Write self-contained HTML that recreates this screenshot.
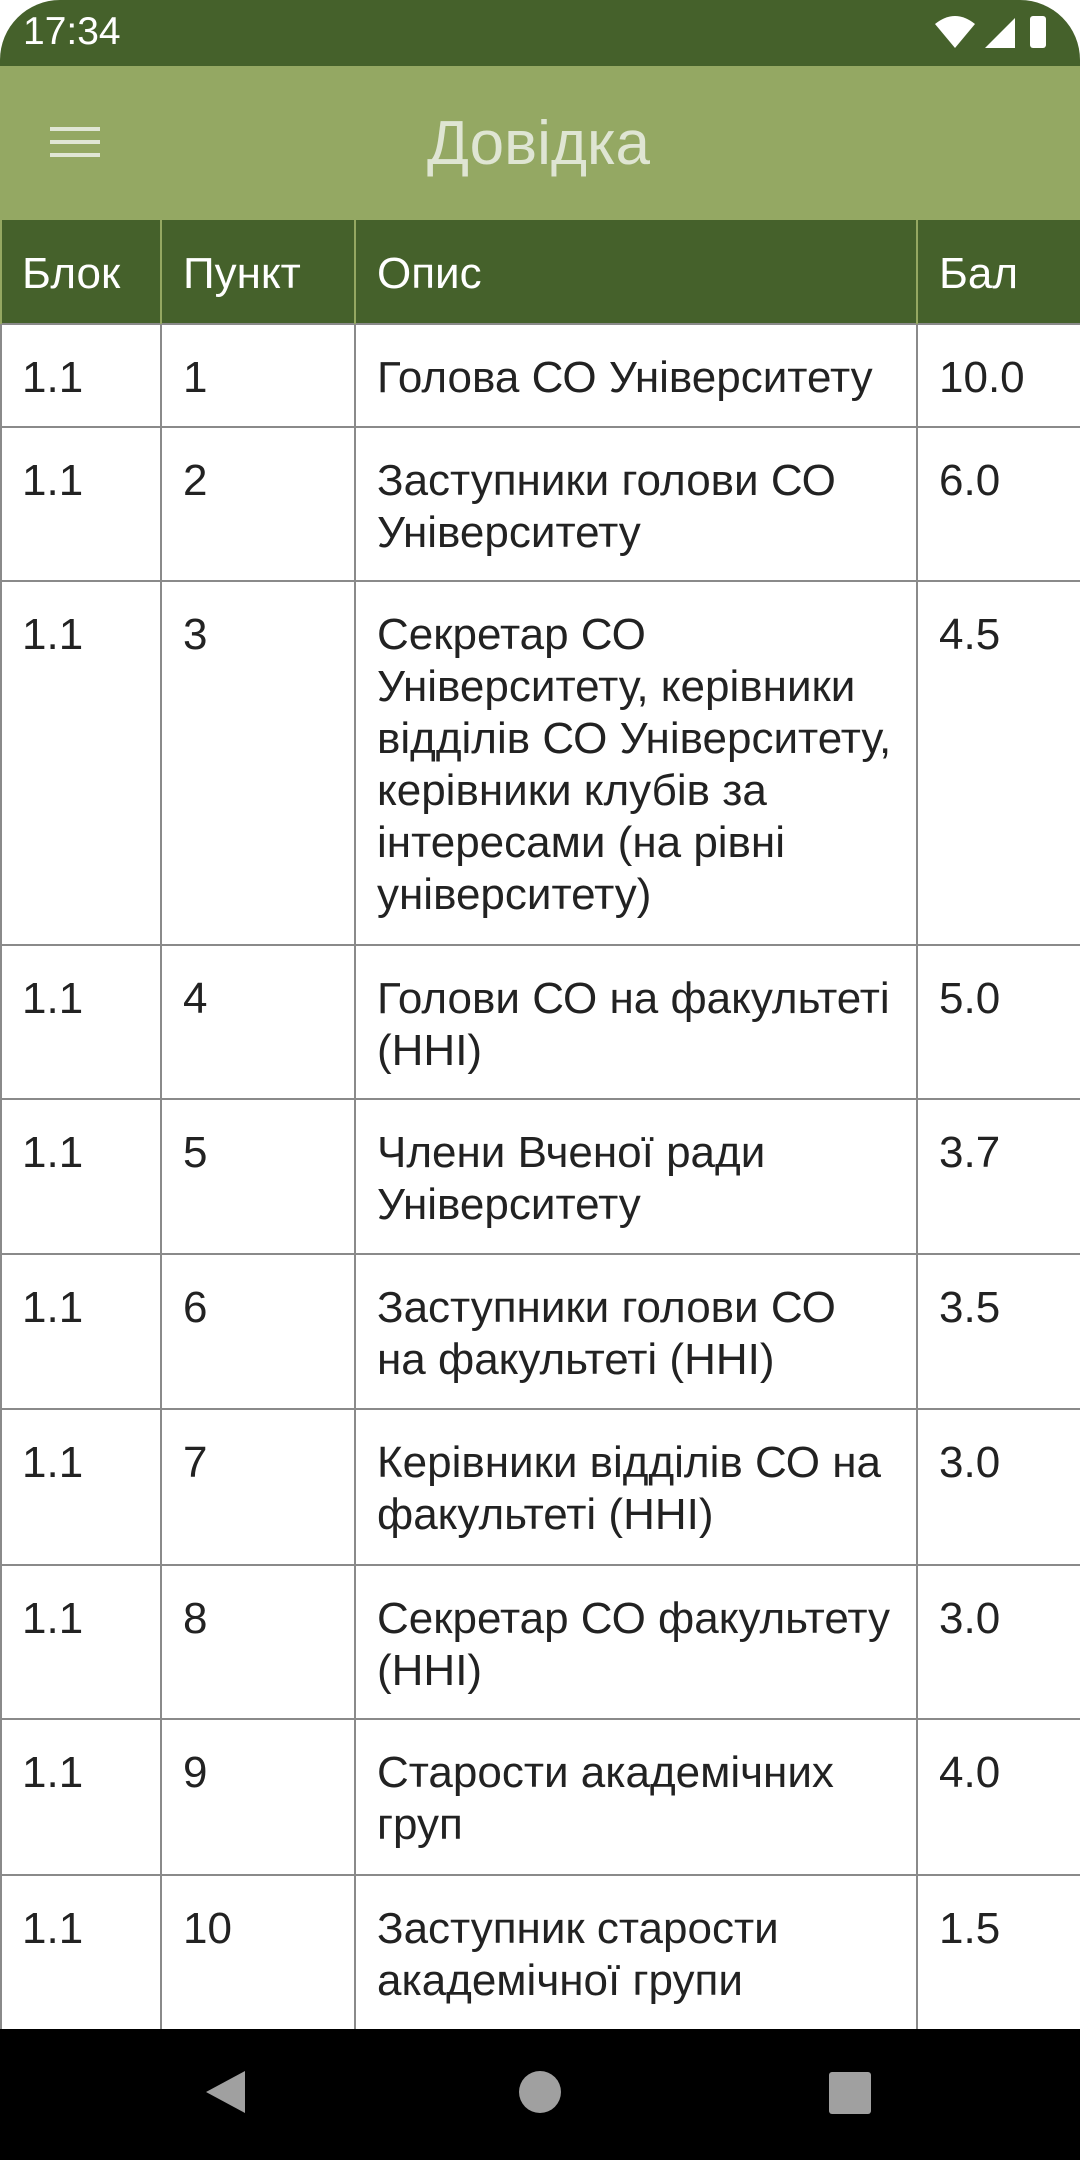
<!DOCTYPE html>
<html><head><meta charset="utf-8"><style>
body{margin:0;width:1080px;height:2160px;position:relative;overflow:hidden;background:#fff;font-family:"Liberation Sans","DejaVu Sans",sans-serif;}
.abs{position:absolute;}
.cell{position:absolute;box-sizing:border-box;padding:28px 0 0 22px;font-size:44px;line-height:52px;color:#222;white-space:nowrap;}
.vl{position:absolute;width:2px;background:#8a8a8a;}
.hl{position:absolute;height:2px;background:#8a8a8a;left:0;width:1080px;}
</style></head><body>
<div class="abs" style="left:0;top:0;width:1080px;height:66px;background:#45612b;border-radius:60px 60px 0 0;"></div>
<div class="abs" style="left:23px;top:10px;font-size:39px;color:#fff;">17:34</div>
<svg class="abs" style="left:930px;top:10px" width="150" height="46">
<path d="M5 14 Q25 -2 45 14 L25 38 Z" fill="#fff"/><path d="M55 38 L85 8 L85 38 Z" fill="#fff"/><rect x="100" y="6" width="16" height="32" rx="3" fill="#fff"/></svg>
<div class="abs" style="left:0;top:66px;width:1080px;height:154px;background:#94a863;"></div>
<svg class="abs" style="left:50px;top:125px" width="50" height="36"><rect y="2" width="50" height="4" fill="#e0e6d4"/><rect y="15" width="50" height="4" fill="#e0e6d4"/><rect y="28" width="50" height="4" fill="#e0e6d4"/></svg>
<div class="abs" style="left:427px;top:108px;font-size:62px;color:#dfe5d3;">Довідка</div>
<div class="abs" style="left:0;top:220px;width:1080px;height:104px;background:#45612b;"></div>
<div id="tbl"></div>
<div class="abs" style="left:0;top:2029px;width:1080px;height:131px;background:#000;"></div>
<svg class="abs" style="left:200px;top:2067px" width="50" height="50"><path d="M45 4 L45 46 L6 25 Z" fill="#a0a0a0"/></svg>
<svg class="abs" style="left:518px;top:2070px" width="44" height="44"><circle cx="22" cy="22" r="21" fill="#a0a0a0"/></svg>
<svg class="abs" style="left:829px;top:2072px" width="42" height="42"><rect width="42" height="42" rx="3" fill="#a0a0a0"/></svg>
<script>
const headers=["Блок","Пункт","Опис","Бал"];
const rows=[
["1.1","1","Голова СО Університету","10.0"],
["1.1","2","Заступники голови СО<br>Університету","6.0"],
["1.1","3","Секретар СО<br>Університету, керівники<br>відділів СО Університету,<br>керівники клубів за<br>інтересами (на рівні<br>університету)","4.5"],
["1.1","4","Голови СО на факультеті<br>(ННІ)","5.0"],
["1.1","5","Члени Вченої ради<br>Університету","3.7"],
["1.1","6","Заступники голови СО<br>на факультеті (ННІ)","3.5"],
["1.1","7","Керівники відділів СО на<br>факультеті (ННІ)","3.0"],
["1.1","8","Секретар СО факультету<br>(ННІ)","3.0"],
["1.1","9","Старости академічних<br>груп","4.0"],
["1.1","10","Заступник старости<br>академічної групи","1.5"]];
const colX=[0,161,355,917,1080];
const rowY=[220,324,427,581,945,1099,1254,1409,1565,1719,1875,2029];
const t=document.getElementById('tbl');
function cell(x,y,w,h,html,color,name){const d=document.createElement('div');d.className='cell';
d.style.cssText=`left:${x}px;top:${y}px;width:${w}px;height:${h}px;color:${color}`;d.innerHTML=html;


t.appendChild(d);}
headers.forEach((h,i)=>cell(colX[i],rowY[0],colX[i+1]-colX[i],rowY[1]-rowY[0],h,'#fff','header-'+i));
rows.forEach((r,ri)=>r.forEach((v,ci)=>cell(colX[ci],rowY[ri+1],colX[ci+1]-colX[ci],rowY[ri+2]-rowY[ri+1],v,'#222','cell-'+(ri+1)+'-'+ci)));
for(let i=1;i<rowY.length-1;i++){const l=document.createElement('div');l.className='hl';l.style.top=(rowY[i]-1)+'px';


t.appendChild(l);}
colX.slice(0,4).forEach((x,i)=>{
const a=document.createElement('div');a.className='vl';a.style.cssText=`left:${i?x-1:0}px;top:220px;height:104px;background:#95a862`;


t.appendChild(a);
const b=document.createElement('div');b.className='vl';b.style.cssText=`left:${i?x-1:0}px;top:324px;height:1705px`;


t.appendChild(b);});
</script>
</body></html>
